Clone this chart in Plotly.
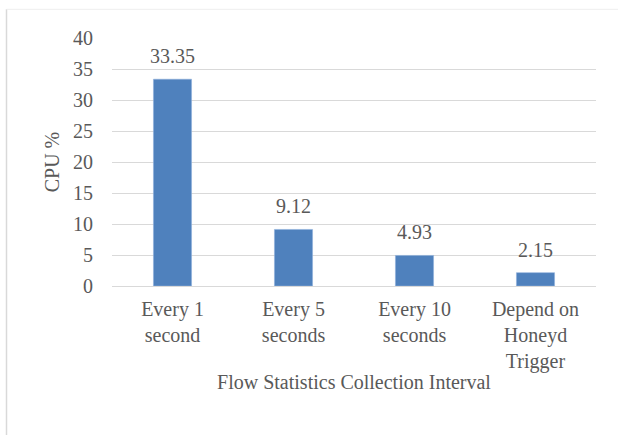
import plotly.graph_objects as go

# CPU usage by flow-statistics collection interval
categories = ["Every 1<br>second", "Every 5<br>seconds", "Every 10<br>seconds", "Depend on<br>Honeyd<br>Trigger"]
cpu_values = [33.35, 9.12, 4.93, 2.15]
y_ticks = [0, 5, 10, 15, 20, 25, 30, 35, 40]

FONT = "Liberation Serif"
TEXT = "#595959"
GRID = "#d9d9d9"

fig = go.Figure()
fig.add_trace(go.Bar(
    x=categories,
    y=cpu_values,
    marker=dict(color="#4f81bd", line=dict(color="#8fb0dc", width=0.6)),
    width=0.315,
    hoverinfo="skip",
))

# value labels above each bar
for c, v in zip(categories, cpu_values):
    fig.add_annotation(
        x=c, y=v, text=f"{v:.2f}", showarrow=False,
        yanchor="bottom", yshift=10,
        font=dict(family=FONT, size=20, color=TEXT),
    )

# light frame around the chart area (left and top edges)
L, R, T, B = 112, 596, 37.7, 285.7
def px_x(px):
    return (px - L) / (R - L)
def px_y(py):
    return (B - py) / (B - T)

fig.add_shape(type="line", xref="paper", yref="paper",
              x0=px_x(6.5), x1=px_x(6.5), y0=px_y(9), y1=px_y(440),
              line=dict(color="#d9d9d9", width=1.5))
fig.add_shape(type="line", xref="paper", yref="paper",
              x0=px_x(6.5), x1=px_x(625), y0=px_y(9), y1=px_y(9),
              line=dict(color="#eeeeee", width=1))

fig.update_layout(
    width=618, height=435,
    margin=dict(l=112, r=22, t=38, b=149),
    paper_bgcolor="white", plot_bgcolor="white",
    font=dict(family=FONT, size=20, color=TEXT),
    showlegend=False,
    xaxis=dict(
        showgrid=False, showline=False, zeroline=False,
        ticks="", ticklabelstandoff=9,
        tickfont=dict(family=FONT, size=20, color=TEXT),
        title=dict(text="Flow Statistics Collection Interval",
                   font=dict(family=FONT, size=20, color=TEXT), standoff=2),
    ),
    yaxis=dict(
        range=[0, 40], tickvals=y_ticks,
        showgrid=True, gridcolor=GRID, gridwidth=1.4,
        zeroline=True, zerolinecolor=GRID, zerolinewidth=1.4,
        showline=False, ticks="", ticklabelstandoff=18,
        tickfont=dict(family=FONT, size=20, color=TEXT),
        title=dict(text="CPU %", font=dict(family=FONT, size=20, color=TEXT), standoff=8),
    ),
    bargap=0.685,
)

fig.write_html("out.html")
